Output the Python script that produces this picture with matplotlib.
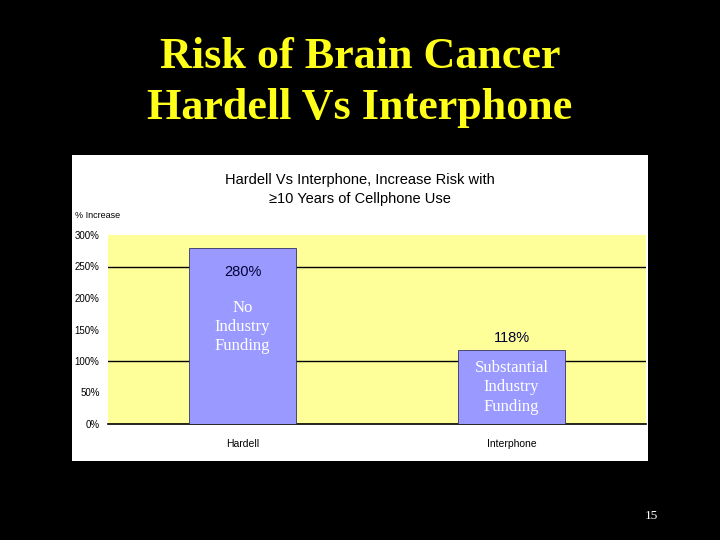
import matplotlib
matplotlib.use("Agg")
import matplotlib.pyplot as plt
from matplotlib.patches import Rectangle

# Data
studies = ["Hardell", "Interphone"]
increase = [280, 118]
value_labels = ["280%", "118%"]
funding_notes = ["No\nIndustry\nFunding", "Substantial\nIndustry\nFunding"]
y_ticks = [0, 50, 100, 150, 200, 250, 300]
grid_values = [100, 250]

fig = plt.figure(figsize=(7.2, 5.4), dpi=100, facecolor="black")

# slide title
fig.text(0.5, 1 - 57 / 540, "Risk of Brain Cancer", ha="center", va="center",
         color="#FFFF1A", fontsize=31.8, fontweight="bold", family="Liberation Serif")
fig.text(0.5, 1 - 108 / 540, "Hardell Vs Interphone", ha="center", va="center",
         color="#FFFF1A", fontsize=31.8, fontweight="bold", family="Liberation Serif")

# white chart panel
fig.patches.append(Rectangle((72 / 720, 1 - 461 / 540), 576 / 720, 306 / 540,
                             transform=fig.transFigure, facecolor="white",
                             edgecolor="none", zorder=-1))

fig.text(0.5, 1 - 180 / 540, "Hardell Vs Interphone, Increase Risk with",
         ha="center", va="center", fontsize=10.5, family="Liberation Sans")
fig.text(0.5, 1 - 199 / 540, "≥10 Years of Cellphone Use",
         ha="center", va="center", fontsize=10.5, family="Liberation Sans")
fig.text(75 / 720, 1 - 215 / 540, "% Increase", ha="left", va="center",
         fontsize=6.5, family="Liberation Sans")

ax = fig.add_axes([108 / 720, 1 - 424 / 540, 538 / 720, 189 / 540])
ax.set_zorder(2)
ax.set_facecolor("#FFFF99")
x = range(len(studies))
bars = ax.bar(x, increase, width=0.4, color="#9999FF", edgecolor="#333366",
              linewidth=0.6, zorder=3)
for g in grid_values:
    ax.axhline(g, color="black", linewidth=1, zorder=2)

ax.set_xlim(-0.5, len(studies) - 0.5)
ax.set_ylim(0, 300)
ax.set_yticks(y_ticks)
ax.set_yticklabels([f"{t}%" for t in y_ticks], fontsize=7, family="Liberation Sans")
ax.set_xticks(list(x))
ax.set_xticklabels(studies, fontsize=7.5, family="Liberation Sans")
ax.tick_params(length=0, pad=6)
ax.tick_params(axis="x", pad=11)
for side in ["left", "right", "top"]:
    ax.spines[side].set_visible(False)
ax.spines["bottom"].set_linewidth(1.2)

# value labels: first inside the bar, second above it
ax.text(0, 241, value_labels[0], ha="center", va="center", fontsize=10.5,
        color="#000033", family="Liberation Sans", zorder=4)
ax.text(1, 137, value_labels[1], ha="center", va="center", fontsize=10.5,
        color="#000033", family="Liberation Sans", zorder=4)

ax.text(0, 154, funding_notes[0], ha="center", va="center", fontsize=12,
        color="white", family="Liberation Serif", linespacing=1.28, zorder=4)
ax.text(1, 58, funding_notes[1], ha="center", va="center", fontsize=12,
        color="white", family="Liberation Serif", linespacing=1.28, zorder=4)

fig.text(651 / 720, 1 - 516 / 540, "15", ha="center", va="center",
         color="white", fontsize=9.5, family="Liberation Serif")

fig.savefig("out.png", dpi=100, facecolor="black")
